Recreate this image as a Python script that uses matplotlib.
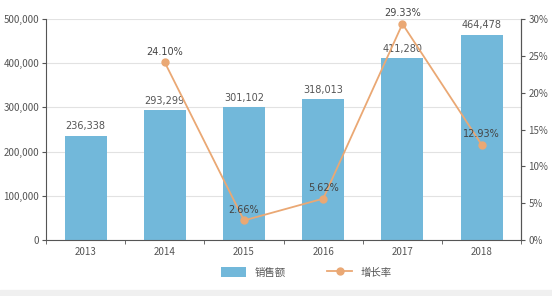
import matplotlib
matplotlib.use("Agg")
import matplotlib.pyplot as plt
import matplotlib.patches as mpatches
import numpy as np

plt.rcParams['font.family'] = ['Noto Sans CJK SC', 'DejaVu Sans']

years = ["2013", "2014", "2015", "2016", "2017", "2018"]
sales = [236338, 293299, 301102, 318013, 411280, 464478]
growth = [np.nan, 24.10, 2.66, 5.62, 29.33, 12.93]
sales_labels = ["236,338", "293,299", "301,102", "318,013", "411,280", "464,478"]
growth_labels = ["", "24.10%", "2.66%", "5.62%", "29.33%", "12.93%"]
left_ticks = [0, 100000, 200000, 300000, 400000, 500000]
left_tick_labels = ["0", "100,000", "200,000", "300,000", "400,000", "500,000"]
right_ticks = [0, 5, 10, 15, 20, 25, 30]
right_tick_labels = ["0%", "5%", "10%", "15%", "20%", "25%", "30%"]

bar_color = "#72b8da"
line_color = "#eaa874"
axis_color = "#555555"
text_color = "#555555"
fs = 7

fig = plt.figure(figsize=(5.52, 2.96), dpi=100)
fig.patches.append(mpatches.Rectangle((0, 0), 1, 0.02, transform=fig.transFigure,
                                      color="#f0f0f0", zorder=0))
ax = fig.add_axes([0.0833, 0.189, 0.861, 0.747])
x = np.arange(len(years))
ax.bar(x, sales, width=0.53, color=bar_color, zorder=2, label="销售额")
ax.set_xlim(-0.5, len(years) - 0.5)
ax.set_ylim(0, 500000)
ax.set_yticks(left_ticks)
ax.set_yticklabels(left_tick_labels)
ax.set_xticks(x)
ax.set_xticklabels(years)
ax.set_xticks(np.arange(-0.5, len(years)), minor=True)
ax.tick_params(axis='x', which='major', length=0, pad=5, labelsize=fs, labelcolor=text_color)
ax.tick_params(axis='x', which='minor', length=3, color=axis_color)
ax.tick_params(axis='y', length=3, color=axis_color, labelsize=fs, labelcolor=text_color, pad=2)
ax.grid(axis='y', color="#e2e2e2", linewidth=0.8, zorder=0)
ax.set_axisbelow(True)
ax.spines['top'].set_visible(False)
for s in ['left', 'bottom', 'right']:
    ax.spines[s].set_color(axis_color)
    ax.spines[s].set_linewidth(0.8)

for xi, v, lab in zip(x, sales, sales_labels):
    ax.annotate(lab, (xi, v), xytext=(0, 3), textcoords='offset points',
                ha='center', va='bottom', fontsize=fs, color=text_color, family='DejaVu Sans')

ax2 = ax.twinx()
ax2.plot(x, growth, color=line_color, linewidth=1.3, marker='o', markersize=5,
         zorder=3, label="增长率")
ax2.set_ylim(0, 30)
ax2.set_yticks(right_ticks)
ax2.set_yticklabels(right_tick_labels)
ax2.tick_params(axis='y', length=3, color=axis_color, labelsize=fs, labelcolor=text_color, pad=2)
for s in ['top', 'left', 'bottom']:
    ax2.spines[s].set_visible(False)
ax2.spines['right'].set_color(axis_color)
ax2.spines['right'].set_linewidth(0.8)

for xi, v, lab in zip(x, growth, growth_labels):
    if lab:
        ax2.annotate(lab, (xi, v), xytext=(0, 4), textcoords='offset points',
                     ha='center', va='bottom', fontsize=fs, color="#444444", family='DejaVu Sans')

h1, l1 = ax.get_legend_handles_labels()
h2, l2 = ax2.get_legend_handles_labels()
fig.legend(h1 + h2, l1 + l2, loc='center', bbox_to_anchor=(0.555, 0.08), ncol=2,
           frameon=False, fontsize=7.5, labelcolor=text_color, handlelength=2.4,
           handleheight=1.1, columnspacing=4.0)

fig.savefig("out.png", dpi=100)
